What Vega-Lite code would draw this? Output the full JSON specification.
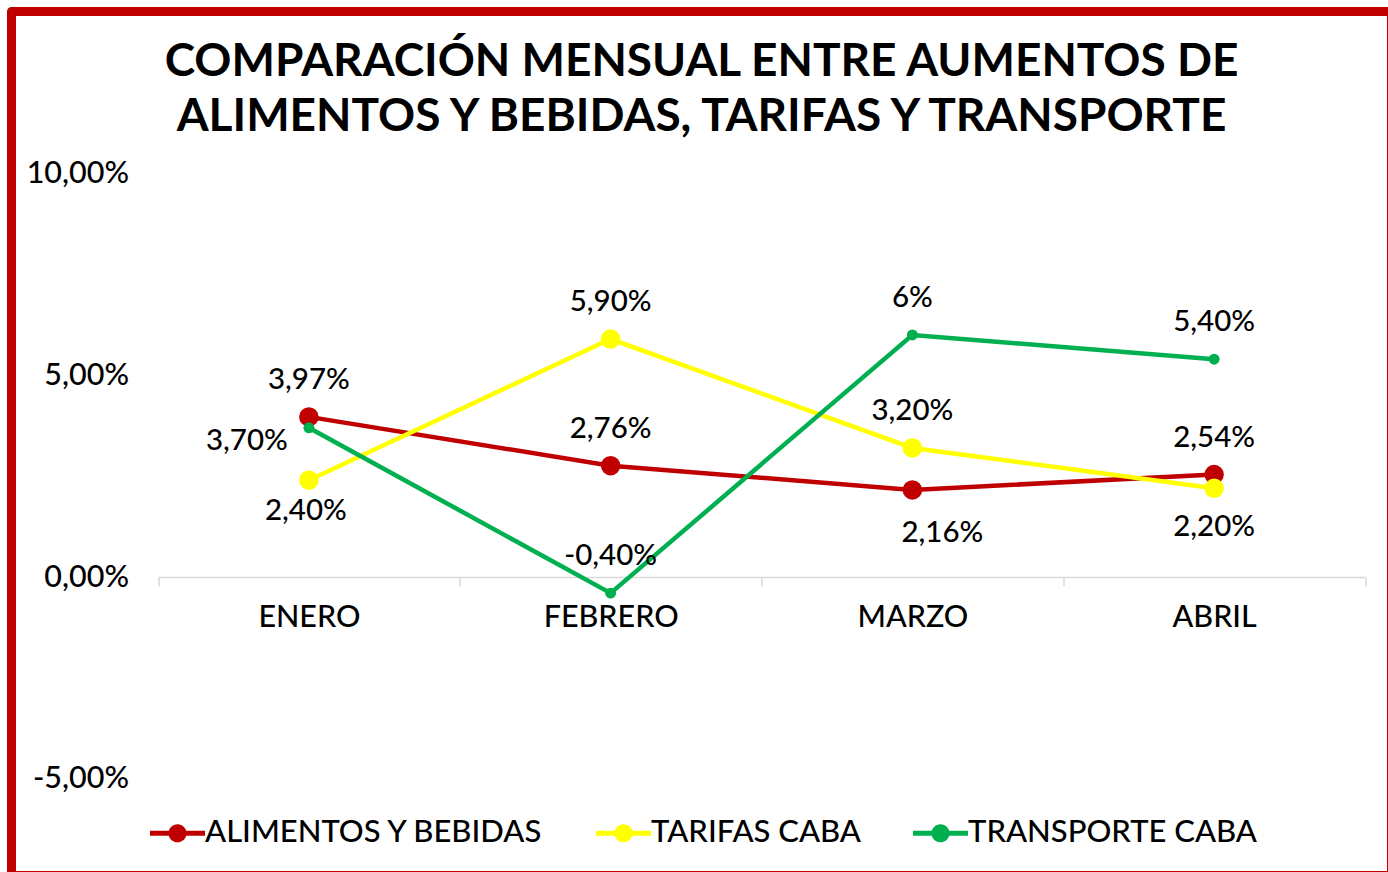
{
  "$schema": "https://vega.github.io/schema/vega-lite/v6.json",
  "width": 1380,
  "height": 864,
  "autosize": {"type": "none"},
  "padding": {"left": 11.5, "top": 11.5, "right": -3.5, "bottom": -3.5},
  "background": "white",
  "title": {
    "text": ["COMPARACIÓN MENSUAL ENTRE AUMENTOS DE", "ALIMENTOS Y BEBIDAS, TARIFAS Y TRANSPORTE"],
    "font": "Lato",
    "fontSize": 46,
    "fontWeight": "bold",
    "color": "#000000",
    "anchor": "middle",
    "frame": "group",
    "lineHeight": 55,
    "offset": -129
  },
  "config": {
    "view": {"stroke": "#C00000", "strokeWidth": 9, "strokeJoin": "round"},
    "font": "Lato"
  },
  "data": {
    "values": [
      {"serie": "ALIMENTOS Y BEBIDAS", "mes": "ENERO", "valor": 3.97, "etiqueta": "3,97%"},
      {"serie": "ALIMENTOS Y BEBIDAS", "mes": "FEBRERO", "valor": 2.76, "etiqueta": "2,76%"},
      {"serie": "ALIMENTOS Y BEBIDAS", "mes": "MARZO", "valor": 2.16, "etiqueta": "2,16%"},
      {"serie": "ALIMENTOS Y BEBIDAS", "mes": "ABRIL", "valor": 2.54, "etiqueta": "2,54%"},
      {"serie": "TARIFAS CABA", "mes": "ENERO", "valor": 2.40, "etiqueta": "2,40%"},
      {"serie": "TARIFAS CABA", "mes": "FEBRERO", "valor": 5.90, "etiqueta": "5,90%"},
      {"serie": "TARIFAS CABA", "mes": "MARZO", "valor": 3.20, "etiqueta": "3,20%"},
      {"serie": "TARIFAS CABA", "mes": "ABRIL", "valor": 2.20, "etiqueta": "2,20%"},
      {"serie": "TRANSPORTE CABA", "mes": "ENERO", "valor": 3.70, "etiqueta": "3,70%"},
      {"serie": "TRANSPORTE CABA", "mes": "FEBRERO", "valor": -0.40, "etiqueta": "-0,40%"},
      {"serie": "TRANSPORTE CABA", "mes": "MARZO", "valor": 6.0, "etiqueta": "6%"},
      {"serie": "TRANSPORTE CABA", "mes": "ABRIL", "valor": 5.40, "etiqueta": "5,40%"}
    ]
  },
  "encoding": {
    "x": {
      "field": "mes",
      "type": "nominal",
      "sort": ["ENERO", "FEBRERO", "MARZO", "ABRIL"],
      "bandPosition": 0.5,
      "scale": {"type": "band", "domain": ["ENERO", "FEBRERO", "MARZO", "ABRIL"], "range": [146.5, 1353.5], "paddingInner": 0, "paddingOuter": 0},
      "axis": {
        "orient": "bottom",
        "offset": -298.5,
        "title": null,
        "labelAngle": 0,
        "labelFont": "Lato",
        "labelFontSize": 30.5,
        "labelFontWeight": 500,
        "labelColor": "#000000",
        "labelPadding": 16,
        "domainColor": "#d9d9d9",
        "domainWidth": 1.5,
        "tickColor": "#d9d9d9",
        "tickWidth": 1.5,
        "tickSize": 9,
        "tickBand": "extent",
        "grid": false
      }
    },
    "y": {
      "field": "valor",
      "type": "quantitative",
      "scale": {"domain": [-7.40, 14.02], "nice": false, "zero": false},
      "axis": {
        "orient": "left",
        "offset": -120,
        "title": null,
        "values": [-5, 0, 5, 10],
        "labelExpr": "(datum.value < 0 ? '-' : '') + replace(format(abs(datum.value), '.2f'), '.', ',') + '%'",
        "labelFont": "Lato",
        "labelFontSize": 30.5,
        "labelFontWeight": 500,
        "labelColor": "#000000",
        "labelPadding": 3,
        "domain": false,
        "ticks": false,
        "tickSize": 0,
        "grid": false
      }
    }
  },
  "layer": [
    {
      "mark": {"type": "line", "strokeWidth": 4.5},
      "encoding": {
        "color": {
          "field": "serie",
          "type": "nominal",
          "scale": {"domain": ["ALIMENTOS Y BEBIDAS", "TARIFAS CABA", "TRANSPORTE CABA"], "range": ["#C00000", "#FFFF00", "#00B050"]}
        },
        "order": {"value": null}
      }
    },
    {
      "transform": [{"filter": "datum.serie !== 'TRANSPORTE CABA'"}],
      "mark": {"type": "point", "filled": true, "opacity": 1, "shape": "circle", "strokeWidth": 0, "size": 380},
      "encoding": {
        "color": {
          "field": "serie",
          "type": "nominal",
          "scale": {"domain": ["ALIMENTOS Y BEBIDAS", "TARIFAS CABA", "TRANSPORTE CABA"], "range": ["#C00000", "#FFFF00", "#00B050"]},
          "legend": {
            "orient": "none",
            "legendX": 138.5,
            "legendY": 794,
            "direction": "horizontal",
            "title": null,
            "padding": 0,
            "symbolType": "M-1,-0.09H1V0.09H-1Z M-0.33,0A0.33,0.33 0 1,1 0.33,0A0.33,0.33 0 1,1 -0.33,0Z",
            "symbolSize": 3025,
            "symbolStrokeWidth": 0,
            "symbolOpacity": 1,
            "labelFont": "Lato",
            "labelFontSize": 31,
            "labelFontWeight": 500,
            "labelColor": "#000000",
            "labelOffset": 0,
            "labelLimit": 500,
            "columnPadding": 52
          }
        }
      }
    },
    {
      "transform": [{"filter": "datum.serie === 'TRANSPORTE CABA'"}],
      "mark": {"type": "point", "filled": true, "opacity": 1, "shape": "circle", "strokeWidth": 0, "size": 120},
      "encoding": {
        "color": {
          "field": "serie",
          "type": "nominal",
          "scale": {"domain": ["ALIMENTOS Y BEBIDAS", "TARIFAS CABA", "TRANSPORTE CABA"], "range": ["#C00000", "#FFFF00", "#00B050"]}
        }
      }
    },
    {
      "transform": [{"filter": "!((datum.serie === 'ALIMENTOS Y BEBIDAS' && datum.mes === 'MARZO') || (datum.serie === 'TARIFAS CABA' && (datum.mes === 'ENERO' || datum.mes === 'ABRIL')) || (datum.serie === 'TRANSPORTE CABA' && datum.mes === 'ENERO'))"}],
      "mark": {"type": "text", "font": "Lato", "fontSize": 29.5, "fontWeight": 500, "color": "#000000", "align": "center", "baseline": "middle", "dy": -37},
      "encoding": {"text": {"field": "etiqueta"}}
    },
    {
      "transform": [{"filter": "datum.serie === 'TARIFAS CABA' && datum.mes === 'ENERO'"}],
      "mark": {"type": "text", "font": "Lato", "fontSize": 29.5, "fontWeight": 500, "color": "#000000", "align": "center", "baseline": "middle", "dy": 31, "dx": -3},
      "encoding": {"text": {"field": "etiqueta"}}
    },
    {
      "transform": [{"filter": "datum.serie === 'TARIFAS CABA' && datum.mes === 'ABRIL'"}],
      "mark": {"type": "text", "font": "Lato", "fontSize": 29.5, "fontWeight": 500, "color": "#000000", "align": "center", "baseline": "middle", "dy": 39},
      "encoding": {"text": {"field": "etiqueta"}}
    },
    {
      "transform": [{"filter": "datum.serie === 'ALIMENTOS Y BEBIDAS' && datum.mes === 'MARZO'"}],
      "mark": {"type": "text", "font": "Lato", "fontSize": 29.5, "fontWeight": 500, "color": "#000000", "align": "center", "baseline": "middle", "dy": 43, "dx": 30},
      "encoding": {"text": {"field": "etiqueta"}}
    },
    {
      "transform": [{"filter": "datum.serie === 'TRANSPORTE CABA' && datum.mes === 'ENERO'"}],
      "mark": {"type": "text", "font": "Lato", "fontSize": 29.5, "fontWeight": 500, "color": "#000000", "align": "right", "baseline": "middle", "dy": 13, "dx": -21},
      "encoding": {"text": {"field": "etiqueta"}}
    }
  ]
}
